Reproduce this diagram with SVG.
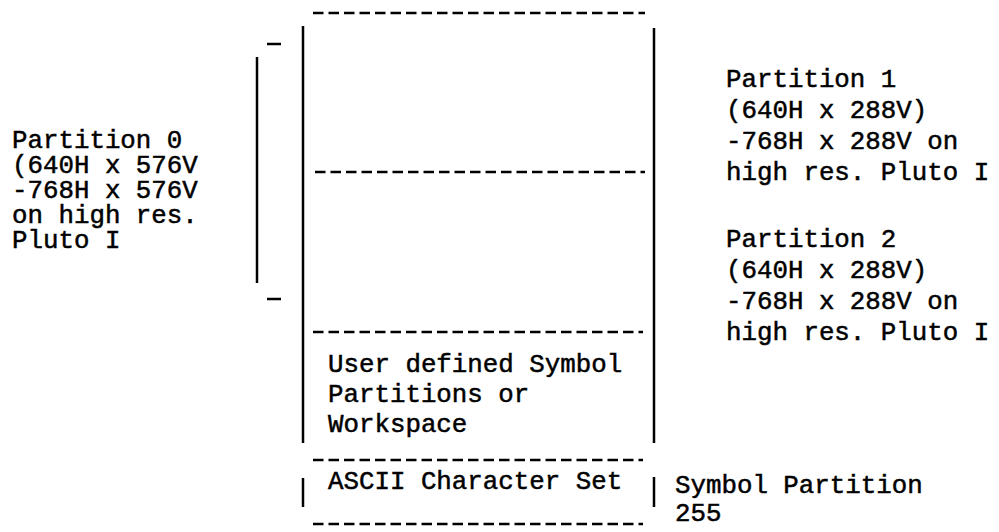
<svg xmlns="http://www.w3.org/2000/svg" width="999" height="532" viewBox="0 0 999 532">
<style>
text{font-family:"Liberation Mono","Courier New",monospace;font-size:25.8px;fill:#000;stroke:#000;stroke-width:0.5}
.dash{stroke:#000;stroke-width:2.5;stroke-dasharray:10.5 5;fill:none}
.solid{stroke:#000;stroke-width:2.5;fill:none}
</style>
<rect width="999" height="532" fill="#fff"/>
<g id="partition0">
<text x="12" y="148">Partition 0</text>
<text x="12" y="173">(640H x 576V</text>
<text x="12" y="198">-768H x 576V</text>
<text x="12" y="223">on high res.</text>
<text x="12" y="248">Pluto I</text>
</g>
<g id="bracket">
<line class="solid" x1="267" y1="44" x2="281" y2="44"/>
<line class="solid" x1="257" y1="57" x2="257" y2="283"/>
<line class="solid" x1="267" y1="299" x2="281" y2="299"/>
</g>
<g id="memory-box">
<line class="dash" x1="313" y1="13" x2="645" y2="13"/>
<line class="solid" x1="303" y1="26" x2="303" y2="443"/>
<line class="solid" x1="654" y1="28" x2="654" y2="443"/>
<line class="dash" x1="315" y1="172" x2="645" y2="172"/>
<line class="dash" x1="313" y1="332" x2="643" y2="332"/>
</g>
<g id="user-defined">
<text x="328" y="372">User defined Symbol</text>
<text x="328" y="402">Partitions or</text>
<text x="328" y="432">Workspace</text>
</g>
<g id="ascii">
<line class="dash" x1="313" y1="460" x2="643" y2="460"/>
<line class="solid" x1="303" y1="478" x2="303" y2="507"/>
<text x="328" y="489">ASCII Character Set</text>
<line class="solid" x1="654" y1="477" x2="654" y2="507"/>
<line class="dash" x1="313" y1="524" x2="643" y2="524"/>
</g>
<g id="partition1">
<text x="726" y="87">Partition 1</text>
<text x="726" y="118">(640H x 288V)</text>
<text x="726" y="149">-768H x 288V on</text>
<text x="726" y="180">high res. Pluto I</text>
</g>
<g id="partition2">
<text x="726" y="247">Partition 2</text>
<text x="726" y="278">(640H x 288V)</text>
<text x="726" y="309">-768H x 288V on</text>
<text x="726" y="340">high res. Pluto I</text>
</g>
<g id="symbol-partition">
<text x="675" y="493">Symbol Partition</text>
<text x="675" y="521">255</text>
</g>
<g id="connectors"></g>
</svg>
